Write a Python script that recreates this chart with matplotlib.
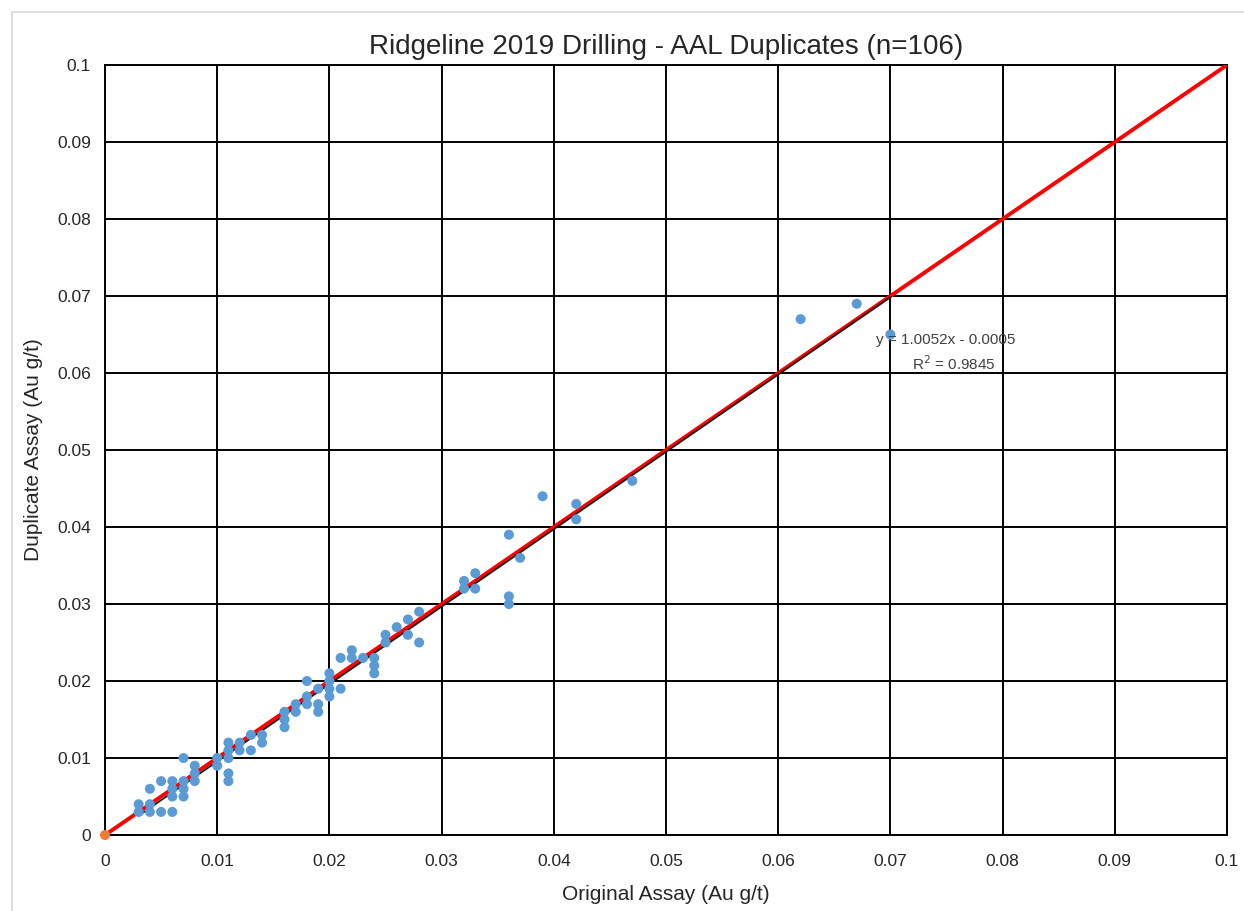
import numpy as np
import matplotlib.pyplot as plt
from matplotlib.patches import Rectangle

plt.rcParams['font.family'] = ['Liberation Sans', 'DejaVu Sans']

# original / duplicate assay pairs (Au g/t)
original = [0.003, 0.003, 0.004, 0.004, 0.004, 0.005, 0.005, 0.006, 0.006, 0.006,
            0.006, 0.007, 0.007, 0.007, 0.007, 0.008, 0.008, 0.008, 0.010, 0.010,
            0.011, 0.011, 0.011, 0.011, 0.011, 0.012, 0.012, 0.013, 0.013, 0.014,
            0.014, 0.016, 0.016, 0.016, 0.017, 0.017, 0.018, 0.018, 0.018, 0.019,
            0.019, 0.019, 0.020, 0.020, 0.020, 0.020, 0.021, 0.021, 0.022, 0.022,
            0.023, 0.024, 0.024, 0.024, 0.025, 0.025, 0.026, 0.027, 0.027, 0.028,
            0.028, 0.032, 0.032, 0.033, 0.033, 0.036, 0.036, 0.036, 0.037, 0.039,
            0.042, 0.042, 0.047, 0.062, 0.067, 0.070]
duplicate = [0.004, 0.003, 0.003, 0.004, 0.006, 0.003, 0.007, 0.007, 0.006, 0.005,
             0.003, 0.010, 0.007, 0.006, 0.005, 0.009, 0.008, 0.007, 0.009, 0.010,
             0.012, 0.011, 0.010, 0.008, 0.007, 0.012, 0.011, 0.013, 0.011, 0.013,
             0.012, 0.016, 0.015, 0.014, 0.017, 0.016, 0.020, 0.018, 0.017, 0.019,
             0.017, 0.016, 0.021, 0.020, 0.019, 0.018, 0.023, 0.019, 0.024, 0.023,
             0.023, 0.023, 0.022, 0.021, 0.026, 0.025, 0.027, 0.028, 0.026, 0.029,
             0.025, 0.033, 0.032, 0.034, 0.032, 0.039, 0.031, 0.030, 0.036, 0.044,
             0.043, 0.041, 0.046, 0.067, 0.069, 0.065]

slope, intercept = 1.0052, -0.0005
r2 = 0.9845
ticks = np.arange(0, 0.1001, 0.01)
tick_labels = ['0', '0.01', '0.02', '0.03', '0.04', '0.05', '0.06', '0.07', '0.08', '0.09', '0.1']

fig = plt.figure(figsize=(12.44, 9.11), dpi=100)
fig.patches.append(Rectangle((12 / 1244, -0.1), 1.2, 1 - 12 / 911 + 0.1,
                             transform=fig.transFigure, fill=False,
                             edgecolor='#d9d9d9', linewidth=1.2))
ax = fig.add_axes([0.0844, 0.0834, 0.9019, 0.8452])

# 1:1 line
ax.plot([0, 0.1], [0, 0.1], color='#ff0000', linewidth=2.8, zorder=3)
# linear trend over the data range
xt = np.array([min(original), max(original)])
ax.plot(xt, slope * xt + intercept, color='#1a1a1a', linewidth=1.3, zorder=4)

ax.scatter(original, duplicate, s=52, color='#5b9bd5', edgecolors='none', zorder=5)
ax.scatter([0], [0], s=52, color='#ed7d31', edgecolors='none', zorder=6, clip_on=False)

ax.text(0.0687, 0.0643, f'y = {slope}x - {abs(intercept)}', fontsize=11, color='#404040',
        ha='left', va='center', zorder=7)
ax.text(0.0719, 0.0612, f'R$^2$ = {r2}', fontsize=11, color='#404040',
        ha='left', va='center', zorder=7)

ax.set_xlim(0, 0.1)
ax.set_ylim(0, 0.1)
ax.set_xticks(ticks)
ax.set_yticks(ticks)
ax.set_xticklabels(tick_labels)
ax.set_yticklabels(tick_labels)
ax.tick_params(length=0, labelsize=12.5, colors='#262626', pad=14)
ax.tick_params(axis='y', pad=10)
ax.grid(True, color='black', linewidth=1.4)
for s in ax.spines.values():
    s.set_color('black')
    s.set_linewidth(1.4)

ax.set_title('Ridgeline 2019 Drilling - AAL Duplicates (n=106)', fontsize=20,
             color='#262626', pad=8)
ax.set_xlabel('Original Assay (Au g/t)', fontsize=15, color='#262626', labelpad=11)
ax.set_ylabel('Duplicate Assay (Au g/t)', fontsize=15, color='#262626', labelpad=10)

fig.savefig('out.png', dpi=100)
